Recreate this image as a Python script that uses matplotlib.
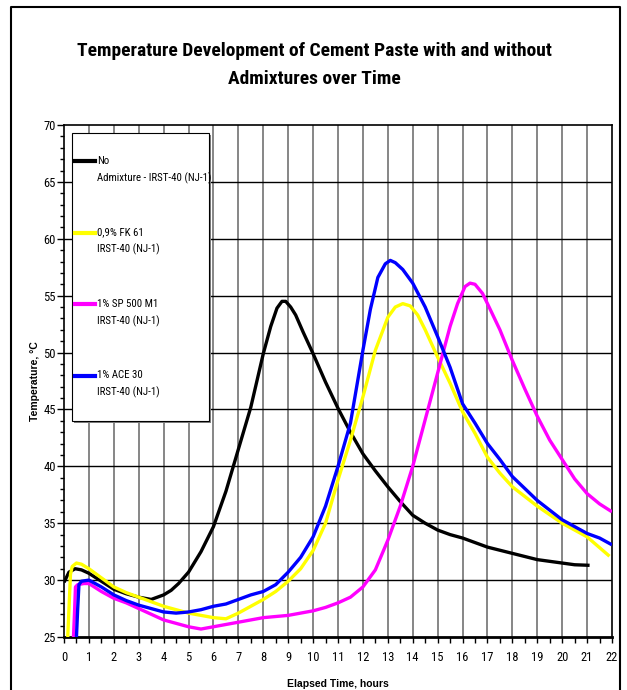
import matplotlib
matplotlib.use('Agg')
import matplotlib.pyplot as plt
from matplotlib.patches import Rectangle
from matplotlib.lines import Line2D
from matplotlib.ticker import MultipleLocator

plt.rcParams['font.family'] = ['Roboto Condensed', 'Liberation Sans', 'DejaVu Sans']

# --- data ---
t_none = [0, 0.2, 0.45, 0.7, 1.0, 1.5, 2.0, 2.5, 3.0, 3.5, 4.0, 4.3, 4.6, 5.0, 5.5,
          6.0, 6.5, 7.0, 7.5, 8.0, 8.3, 8.55, 8.75, 8.9, 9.1, 9.3, 9.6, 10.0, 10.5, 11.0,
          11.5, 12.0, 12.5, 13.0, 13.5, 14.0, 14.5, 15.0, 15.5, 16.0, 17.0, 18.0,
          19.0, 20.0, 20.5, 21.1]
temp_none = [29.8, 30.7, 31.0, 30.9, 30.6, 29.9, 29.2, 28.8, 28.5, 28.3, 28.7, 29.1,
             29.7, 30.7, 32.5, 34.7, 37.8, 41.5, 45.2, 49.9, 52.3, 53.9, 54.5, 54.5,
             54.0, 53.3, 51.8, 49.9, 47.4, 45.1, 43.0, 41.1, 39.6, 38.2, 36.9, 35.7, 35.0,
             34.4, 34.0, 33.7, 32.9, 32.35, 31.8, 31.5, 31.35, 31.3]

t_fk61 = [0.15, 0.2, 0.26, 0.33, 0.5, 0.7, 1.0, 1.5, 2.0, 2.5, 3.0, 3.5, 4.0, 4.5,
          5.0, 5.5, 6.0, 6.5, 7.0, 7.5, 8.0, 8.5, 9.0, 9.5, 10.0, 10.5, 11.0, 11.5,
          12.0, 12.5, 13.0, 13.3, 13.6, 13.9, 14.2, 14.5, 15.0, 15.5, 16.0, 16.5,
          17.0, 17.5, 18.0, 19.0, 20.0, 21.0, 21.9]
temp_fk61 = [25.0, 27.5, 30.5, 31.2, 31.5, 31.4, 31.0, 30.2, 29.4, 28.9, 28.5, 28.1,
             27.7, 27.4, 27.1, 26.9, 26.7, 26.6, 27.1, 27.7, 28.3, 29.0, 29.9, 31.0,
             32.6, 35.0, 38.8, 42.3, 46.1, 50.2, 53.1, 54.0, 54.3, 54.1, 53.3, 52.0,
             49.6, 47.3, 44.8, 42.9, 40.8, 39.4, 38.2, 36.5, 35.0, 33.8, 32.1]

t_sp500 = [0.38, 0.42, 0.46, 0.55, 0.8, 1.0, 1.5, 2.0, 2.5, 3.0, 3.5, 4.0, 4.5, 5.0,
           5.5, 6.0, 6.5, 7.0, 7.5, 8.0, 8.5, 9.0, 9.5, 10.0, 10.5, 11.0, 11.5, 12.0,
           12.5, 13.0, 13.5, 14.0, 14.5, 15.0, 15.5, 15.8, 16.1, 16.3, 16.5, 16.8,
           17.0, 17.5, 18.0, 18.5, 19.0, 19.5, 20.0, 20.5, 21.0, 21.5, 22.0]
temp_sp500 = [25.0, 27.0, 29.4, 29.6, 29.7, 29.7, 29.0, 28.4, 28.0, 27.5, 27.0, 26.5,
              26.2, 25.9, 25.7, 25.9, 26.1, 26.3, 26.5, 26.7, 26.8, 26.9, 27.1, 27.3,
              27.6, 28.0, 28.5, 29.4, 30.9, 33.5, 36.5, 40.0, 44.1, 48.2, 52.3, 54.3,
              55.8, 56.1, 56.0, 55.2, 54.3, 52.0, 49.3, 46.8, 44.4, 42.3, 40.6, 38.9,
              37.6, 36.7, 36.0]

t_ace30 = [0.5, 0.55, 0.6, 0.7, 1.0, 1.5, 2.0, 2.5, 3.0, 3.5, 4.0, 4.5, 5.0, 5.5,
           6.0, 6.5, 7.0, 7.5, 8.0, 8.5, 9.0, 9.5, 10.0, 10.5, 11.0, 11.5, 12.0, 12.3,
           12.6, 12.9, 13.1, 13.3, 13.6, 14.0, 14.5, 15.0, 15.5, 16.0, 16.5, 17.0,
           17.5, 18.0, 19.0, 20.0, 21.0, 21.5, 22.0]
temp_ace30 = [25.0, 27.5, 29.6, 29.9, 30.0, 29.4, 28.7, 28.2, 27.8, 27.5, 27.2, 27.1,
              27.2, 27.4, 27.7, 27.9, 28.3, 28.7, 29.0, 29.6, 30.7, 32.0, 33.8, 36.5,
              40.0, 43.8, 50.2, 53.8, 56.6, 57.8, 58.1, 57.9, 57.3, 56.1, 54.0, 51.4,
              48.7, 45.5, 43.8, 42.0, 40.6, 39.1, 37.0, 35.3, 34.1, 33.7, 33.1]

series_labels = ['No\nAdmixture - IRST-40 (NJ-1)', '0,9% FK 61\nIRST-40 (NJ-1)',
                 '1% SP 500 M1\nIRST-40 (NJ-1)', '1% ACE 30\nIRST-40 (NJ-1)']
series_colors = ['black', '#FFFF00', '#FF00FF', '#0000FF']

fig = plt.figure(figsize=(6.27, 6.9), dpi=100)
ax = fig.add_axes([64/627, 1-637/690, 548/627, 512/690])

# grid lines
for h in range(1, 22):
    ax.axvline(h, color='0.4', lw=1.1, zorder=1)
for v in range(30, 70, 5):
    ax.axhline(v, color='black', lw=1.0, zorder=1)

data = [(t_none, temp_none), (t_fk61, temp_fk61), (t_sp500, temp_sp500), (t_ace30, temp_ace30)]
for (t, temp), c in zip(data, series_colors):
    ax.plot(t, temp, color=c, lw=2.4, zorder=3, solid_capstyle='butt', solid_joinstyle='round')

ax.set_xlim(0, 22)
ax.set_ylim(25, 70)
ax.xaxis.set_major_locator(MultipleLocator(1))
ax.xaxis.set_minor_locator(MultipleLocator(0.5))
ax.yaxis.set_major_locator(MultipleLocator(5))
ax.yaxis.set_minor_locator(MultipleLocator(1))
ax.tick_params(axis='y', which='major', direction='out', length=5, width=1, pad=1, labelsize=9)
ax.tick_params(axis='y', which='minor', direction='out', length=3, width=1)
ax.tick_params(axis='x', which='major', direction='out', length=4, width=1, pad=6, labelsize=9)
ax.tick_params(axis='x', which='minor', direction='out', length=4, width=1)
for s in ['left', 'right', 'top']:
    ax.spines[s].set_linewidth(1.2)
ax.spines['bottom'].set_linewidth(2)

ax.set_xlabel('Elapsed Time, hours', fontsize=7.5, fontweight='bold',
              family=['Liberation Sans', 'DejaVu Sans'], labelpad=11)
ax.set_ylabel('Temperature, °C', fontsize=7.5, fontweight='bold',
              family=['Liberation Sans', 'DejaVu Sans'], labelpad=2)

fig.text(0.502, 0.906, 'Temperature Development of Cement Paste with and without\nAdmixtures over Time',
         ha='center', va='center', fontsize=14, fontweight='bold', linespacing=1.75)

# legend box (drawn by hand so the line sits next to the first text line)
x0, x1 = (72-64)/548, (209-64)/548
y0, y1 = (637-421)/512, (637-133)/512
ax.add_patch(Rectangle((x0 + 0.004, y0 - 0.004), x1 - x0, y1 - y0, transform=ax.transAxes,
                       facecolor='0.5', edgecolor='none', zorder=4))
ax.add_patch(Rectangle((x0, y0), x1 - x0, y1 - y0, transform=ax.transAxes,
                       facecolor='white', edgecolor='black', lw=0.8, zorder=5))
for i, (lab, c) in enumerate(zip(series_labels, series_colors)):
    yy = (637 - (161 + 71.5 * i)) / 512
    ax.add_line(Line2D([(75-64)/548, (95-64)/548], [yy, yy], transform=ax.transAxes,
                       color=c, lw=3, zorder=6))
    ax.text((97-64)/548, yy + 0.01, lab, transform=ax.transAxes, ha='left', va='top',
            fontsize=7.8, linespacing=1.7, zorder=6)

# outer frame
fig.add_artist(Line2D([11/627, 11/627, 620/627, 620/627], [0, 1-7/690, 1-7/690, 0],
                      transform=fig.transFigure, color='black', lw=1.5))

fig.savefig('out.png', dpi=100)
